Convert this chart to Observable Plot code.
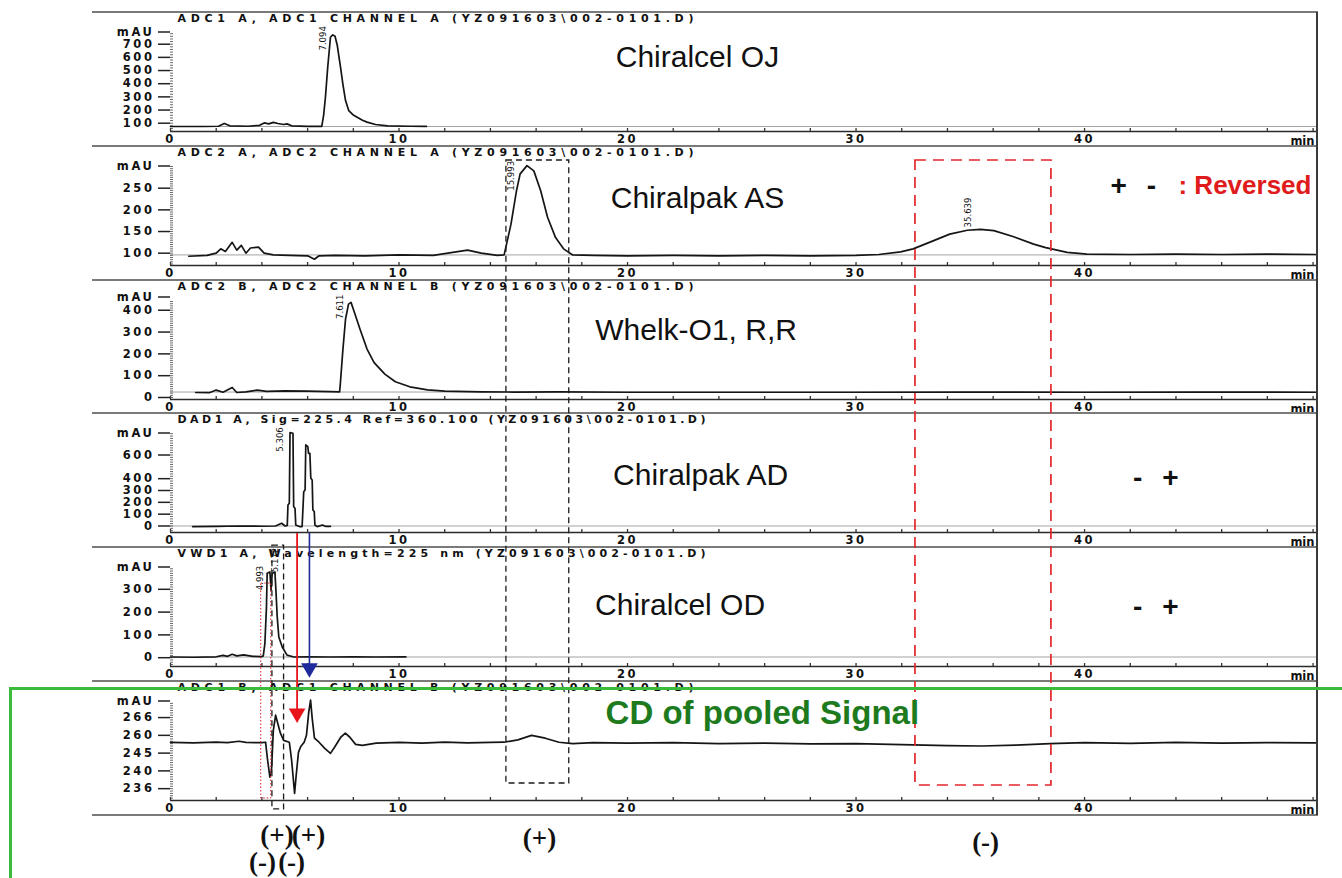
<!DOCTYPE html>
<html>
<head>
<meta charset="utf-8">
<script src="https://cdn.jsdelivr.net/npm/d3@7"></script>
<script src="https://cdn.jsdelivr.net/npm/@observablehq/plot@0.6"></script>
<style>
  html, body { margin: 0; padding: 0; background: #fff; }
  #fig { position: relative; width: 1342px; height: 878px; overflow: hidden; background: #fff; }
  #fig svg { position: absolute; left: 0; overflow: visible; }
  .hline { position: absolute; left: 92px; width: 1226px; height: 0; border-top: 2px solid #7a7a7a; }
  .vline { position: absolute; left: 1316px; top: 12px; width: 0; height: 803px; border-left: 2px solid #3a3a3a; }
  .green { position: absolute; left: 9px; top: 687px; width: 1400px; height: 300px; border: 3px solid #3cba3c; box-sizing: border-box; }
  #fig g[aria-label$="tick label"] text { letter-spacing: 2.6px; }
</style>
</head>
<body>
<div id="fig"></div>
<script>
// ---------- shared axis data ----------
const xDomain = [0, 50.15];
const xTicks = [0, 10, 20, 30, 40];
const xMinorTicks = [0, 2, 4, 6, 8, 10, 12, 14, 16, 18, 20, 22, 24, 26, 28, 30, 32, 34, 36, 38, 40, 42, 44, 46, 48, 50];

const panelTitles = [
  "ADC1 A, ADC1 CHANNEL A (YZ091603\\002-0101.D)",
  "ADC2 A, ADC2 CHANNEL A (YZ091603\\002-0101.D)",
  "ADC2 B, ADC2 CHANNEL B (YZ091603\\002-0101.D)",
  "DAD1 A, Sig=225.4 Ref=360.100 (YZ091603\\002-0101.D)",
  "VWD1 A, Wavelength=225 nm (YZ091603\\002-0101.D)",
  "ADC1 B, ADC1 CHANNEL B (YZ091603\\002-0101.D)"
];
const columnNames = ["Chiralcel OJ", "Chiralpak AS", "Whelk-O1, R,R", "Chiralpak AD", "Chiralcel OD", "CD of pooled Signal"];

// ---------- Panel 1 : Chiralcel OJ ----------
const ojTime   = [0, 1.5, 2.1, 2.35, 2.6, 3.4, 3.9, 4.1, 4.3, 4.5, 4.7, 4.95, 5.1, 5.3, 6.0, 6.62, 6.7, 6.78, 6.88, 7.0, 7.1, 7.2, 7.3, 7.44, 7.55, 7.66, 7.8, 7.98, 8.17, 8.4, 8.6, 8.97, 9.5, 10.5, 11.2];
const ojSignal = [75, 75, 77, 98, 80, 77, 84, 102, 95, 106, 98, 90, 95, 80, 76, 76, 160, 297, 525, 753, 771, 760, 690, 525, 390, 272, 196, 165, 146, 122, 108, 90, 80, 77, 76];
const ojDomain = [37, 792.7];
const ojTicks = [100, 200, 300, 400, 500, 600, 700];
const ojTickLabels = ["100", "200", "300", "400", "500", "600", "700"];
const ojBaseline = 75;
const ojPeaks = [{t: 6.65, v: 652, text: "7.094"}];

// ---------- Panel 2 : Chiralpak AS ----------
const asTime   = [0.8, 1.6, 2.0, 2.2, 2.4, 2.7, 2.9, 3.1, 3.3, 3.5, 3.85, 4.1, 4.5, 5.2, 6.0, 6.3, 6.5, 7.2, 8.5, 10.0, 11.5, 12.5, 13.0, 13.6, 14.3, 14.6, 14.9, 15.14, 15.3, 15.6, 15.9, 16.2, 16.5, 16.85, 17.2, 17.6, 18.5, 20, 22, 24, 26, 28, 30, 31.0, 31.95, 32.5, 33.4, 34.1, 34.87, 35.45, 36.03, 36.9, 37.77, 38.3, 39.24, 40.1, 42, 44, 46, 48, 50.1];
const asSignal = [93, 95, 100, 110, 104, 125, 107, 118, 100, 112, 114, 100, 96, 95, 94, 86, 94, 95, 94, 96, 95, 103, 107, 100, 95, 96, 167, 244, 283, 302, 290, 244, 183, 136, 110, 96, 95, 94, 95, 94, 95, 94, 95, 97, 103, 110, 129, 144, 153, 155, 152, 138, 121, 113, 102, 98, 97, 98, 97, 98, 97];
const asDomain = [71.6, 301.2];
const asTicks = [100, 150, 200, 250];
const asTickLabels = ["100", "150", "200", "250"];
const asBaseline = 96;
const asPeaks = [{t: 14.9, v: 244, text: "15.993"}, {t: 34.9, v: 159.5, text: "35.639"}];

// ---------- Panel 3 : Whelk-O1 ----------
const wkTime   = [1.1, 1.7, 2.0, 2.3, 2.7, 2.9, 3.3, 3.8, 4.2, 5.0, 6.0, 7.0, 7.4, 7.43, 7.54, 7.66, 7.79, 7.9, 8.05, 8.29, 8.6, 8.91, 9.38, 9.84, 10.47, 11.25, 12.0, 13.6, 15, 17, 20, 25, 30, 35, 40, 45, 50.1];
const wkSignal = [23, 22, 34, 24, 46, 23, 26, 34, 28, 30, 29, 27, 26, 60, 214, 360, 428, 436, 390, 314, 222, 160, 107, 72, 49, 35, 29, 26, 25, 26, 24, 24, 24, 25, 24, 25, 24];
const wkDomain = [-9.2, 447];
const wkTicks = [0, 100, 200, 300, 400];
const wkTickLabels = ["0", "100", "200", "300", "400"];
const wkBaseline = 25;
const wkPeaks = [{t: 7.4, v: 360, text: "7.611"}];

// ---------- Panel 4 : Chiralpak AD ----------
const adTime   = [0.97, 2.0, 3.0, 4.0, 4.6, 4.86, 5.02, 5.11, 5.14, 5.2, 5.23, 5.36, 5.39, 5.45, 5.48, 5.64, 5.76, 5.83, 5.89, 5.92, 6.01, 6.04, 6.1, 6.14, 6.2, 6.23, 6.29, 6.32, 6.42, 6.65, 6.8, 7.0];
const adSignal = [-5, -3, 0, -2, 0, 23, 0, 5, 177, 192, 789, 784, 163, 150, 8, -5, -5, 290, 304, 685, 670, 614, 614, 403, 389, 135, 122, 8, -5, 8, -4, -3];
const adDomain = [-55, 786];
const adTicks = [0, 100, 200, 300, 400, 600];
const adTickLabels = ["0", "100", "200", "300", "400", "600"];
const adBaseline = 0;
const adPeaks = [{t: 4.77, v: 628, text: "5.306"}];

// ---------- Panel 5 : Chiralcel OD ----------
const odTime   = [0, 1.0, 2.0, 2.3, 2.5, 2.7, 2.9, 3.2, 3.6, 4.0, 4.06, 4.13, 4.2, 4.23, 4.35, 4.4, 4.45, 4.57, 4.62, 4.67, 4.74, 4.89, 5.1, 5.4, 6.0, 7.0, 8.0, 9.0, 10.3];
const odSignal = [3, 2, 4, 10, 6, 15, 8, 12, 6, 5, 8, 62, 223, 370, 376, 296, 369, 376, 282, 179, 91, 47, 11, 3, 4, 3, 4, 3, 4];
const odDomain = [-38.6, 397.8];
const odTicks = [0, 100, 200, 300];
const odTickLabels = ["0", "100", "200", "300"];
const odBaseline = 3;
const odPeaks = [{t: 3.9, v: 296, text: "4.993"}, {t: 4.55, v: 375, text: "5.172"}];

// ---------- Panel 6 : CD of pooled signal ----------
const cdTime   = [0, 1, 2, 2.5, 3.0, 3.3, 4.0, 4.16, 4.25, 4.35, 4.42, 4.5, 4.6, 4.68, 4.81, 4.95, 5.2, 5.3, 5.43, 5.5, 5.6, 5.7, 5.85, 5.95, 6.05, 6.13, 6.2, 6.3, 6.5, 6.75, 7.0, 7.2, 7.45, 7.65, 7.85, 8.1, 8.4, 9, 10, 11, 12, 13, 14, 14.6, 15.2, 15.8, 16.4, 17.0, 17.6, 18.5, 20, 22, 24, 26, 28, 30, 32, 34, 35.5, 37, 38.5, 40, 42, 44, 46, 48, 50.1];
const cdSignal = [255.5, 255.3, 255.6, 255.4, 256.0, 255.5, 255.4, 255.6, 248, 240.9, 243.7, 260.6, 267, 264, 259.4, 256.4, 255.6, 248, 234, 241.6, 251.3, 253.8, 255.6, 258.5, 268.3, 273.4, 265.8, 257.3, 255.6, 253, 250.9, 253.8, 257.7, 259.4, 257.7, 254.7, 254.3, 255.2, 255.5, 255.2, 255.6, 255.3, 255.5, 255.6, 256.6, 258.5, 257.3, 255.6, 255.0, 255.4, 255.2, 255.4, 255.0, 255.2, 254.9, 255.0, 254.6, 254.2, 254.0, 254.4, 255.0, 255.4, 255.1, 255.5, 255.2, 255.4, 255.3];
const cdDomain = [231, 273];
const cdTicks = [236, 243.5, 251, 258.5, 266];
const cdTickLabels = ["236", "240", "245", "260", "266"];
const cdBaseline = null;
const cdPeaks = [];

// ---------- overlay annotations (x in minutes, y in panel rows 0..6) ----------
const blackBoxes  = [{t1: 14.7, t2: 17.45, r1: 1.106, r2: 5.761}, {t1: 4.46, t2: 4.97, r1: 3.983, r2: 5.955}];
const redBoxes    = [{t1: 32.6, t2: 38.55, r1: 1.106, r2: 5.776}];
const dottedBoxes = [{t1: 3.97, t2: 4.41, r1: 4.267, r2: 5.873}];
const redArrow    = [{t: 5.54, r1: 3.893, head: 5.236}];
const blueArrow   = [{t: 6.08, r1: 3.893, head: 4.898}];
const columnLabelPos = [
  {t: 23.06, r: 0.336}, {t: 23.06, r: 1.39}, {t: 23.0, r: 2.376},
  {t: 23.2, r: 3.46}, {t: 22.3, r: 4.43}
];
const cdLabelPos = {t: 25.9, r: 5.24};
const signMarks = [
  {t: 41.49, r: 1.293, s: "+"}, {t: 42.93, r: 1.293, s: "-"},
  {t: 42.32, r: 3.475, s: "-"}, {t: 43.76, r: 3.475, s: "+"},
  {t: 42.32, r: 4.446, s: "-"}, {t: 43.76, r: 4.446, s: "+"}
];
const reversedLabel = {t: 44.11, r: 1.293, s: ": Reversed"};
const elutionSigns = [
  {t: 4.66, r: 6.15, s: "(+)"}, {t: 6.04, r: 6.15, s: "(+)"},
  {t: 4.03, r: 6.35, s: "(-)"}, {t: 5.3, r: 6.35, s: "(-)"},
  {t: 16.15, r: 6.17, s: "(+)"}, {t: 35.67, r: 6.2, s: "(-)"}
];

// ---------- build ----------
const panels = [
  {title: panelTitles[0], time: ojTime, signal: ojSignal, domain: ojDomain, ticks: ojTicks, tickLabels: ojTickLabels, baseline: ojBaseline, peaks: ojPeaks},
  {title: panelTitles[1], time: asTime, signal: asSignal, domain: asDomain, ticks: asTicks, tickLabels: asTickLabels, baseline: asBaseline, peaks: asPeaks},
  {title: panelTitles[2], time: wkTime, signal: wkSignal, domain: wkDomain, ticks: wkTicks, tickLabels: wkTickLabels, baseline: wkBaseline, peaks: wkPeaks},
  {title: panelTitles[3], time: adTime, signal: adSignal, domain: adDomain, ticks: adTicks, tickLabels: adTickLabels, baseline: adBaseline, peaks: adPeaks},
  {title: panelTitles[4], time: odTime, signal: odSignal, domain: odDomain, ticks: odTicks, tickLabels: odTickLabels, baseline: odBaseline, peaks: odPeaks},
  {title: panelTitles[5], time: cdTime, signal: cdSignal, domain: cdDomain, ticks: cdTicks, tickLabels: cdTickLabels, baseline: cdBaseline, peaks: cdPeaks}
];
// styling: rendered title widths and small vertical nudges of the "mAU" unit label
const titleWidths = [516, 516, 516, 528, 528, 516];
const unitNudge = [0, 0, -3, 0, 0, 0];

const fig = document.getElementById("fig");
const TOP = 12, ROW = 133.83, PH = 134;
const MT = 19.5, MB = 15, ML = 170, MR = 26;
const tickTextStyle = {fontWeight: "bold", fontSize: 11.5, fontFamily: "DejaVu Sans", fill: "#111"};

function panelPlot(p, idx) {
  const [lo, hi] = p.domain;
  const yUnit = (hi - lo) / (PH - MT - MB);
  const xUnit = (xDomain[1] - xDomain[0]) / (1342 - ML - MR);
  const pts = p.time.map((t, k) => ({t, v: p.signal[k]}));
  const labelMap = new Map(p.ticks.map((d, k) => [d, p.tickLabels[k]]));
  const minorY = d3.ticks(lo, hi, 38).filter(d => d > lo && d < hi);
  const marks = [];
  if (p.baseline !== null) marks.push(Plot.ruleY([p.baseline], {stroke: "#8c8c8c", strokeWidth: 0.8}));
  marks.push(
    Plot.ruleY([lo], {stroke: "#2a2a2a", strokeWidth: 1.6}),
    Plot.ruleX(xMinorTicks, {x: d => d, y1: lo, y2: lo + 3 * yUnit, stroke: "#333", strokeWidth: 1.3}),
    Plot.ruleY(minorY, {y: d => d, x1: 0, x2: 3 * xUnit, stroke: "#444", strokeWidth: 0.8}),
    Plot.axisY({ticks: p.ticks, tickFormat: d => labelMap.get(d), tickSize: 12, tickPadding: 4, line: true,
      stroke: "#222", strokeWidth: 1.5, ...tickTextStyle, label: null}),
    Plot.axisY({ticks: [hi], tickFormat: () => "mAU", tickSize: 12, tickPadding: 4, dy: unitNudge[idx],
      stroke: "#222", strokeWidth: 1.5, ...tickTextStyle, label: null}),
    Plot.axisX({ticks: xTicks, tickFormat: d => String(d), tickSize: 0, tickPadding: 3,
      ...tickTextStyle, label: null}),
    Plot.line(pts, {x: "t", y: "v", stroke: "#151515", strokeWidth: 1.7}),
    Plot.text(p.peaks, {x: "t", y: "v", text: "text", rotate: -90, textAnchor: "start",
      fontFamily: "DejaVu Sans Condensed", fontSize: 9.5, fill: "#111"}),
    Plot.text([p.title], {frameAnchor: "top-left", dx: 7, dy: -14, lineAnchor: "middle", textAnchor: "start",
      fontWeight: "bold", fontSize: 11, fontFamily: "DejaVu Sans", fill: "#111"}),
    Plot.text(["min"], {frameAnchor: "bottom-right", dx: -2, dy: 9.5, lineAnchor: "middle", textAnchor: "end",
      ...tickTextStyle})
  );
  const svg = Plot.plot({
    width: 1342, height: PH,
    marginLeft: ML, marginRight: MR, marginTop: MT, marginBottom: MB,
    x: {domain: xDomain, label: null},
    y: {domain: p.domain, label: null},
    style: {background: "transparent", overflow: "visible"},
    marks
  });
  d3.select(svg).selectAll("text")
    .filter(function() { return this.textContent === p.title; })
    .attr("textLength", titleWidths[idx]).attr("lengthAdjust", "spacing");
  return svg;
}

panels.forEach((p, i) => {
  const svg = panelPlot(p, i);
  svg.style.top = (TOP + i * ROW) + "px";
  fig.appendChild(svg);
});

// panel separators and right border
for (let i = 0; i <= 6; i++) {
  const d = document.createElement("div");
  d.className = "hline";
  d.style.top = (TOP + i * ROW - 1) + "px";
  fig.appendChild(d);
}
const vb = document.createElement("div"); vb.className = "vline"; fig.appendChild(vb);

// overlay
const columnTexts = columnLabelPos.map((d, i) => ({...d, name: columnNames[i]}));
const overlay = Plot.plot({
  width: 1342, height: 878,
  marginLeft: ML, marginRight: MR, marginTop: 0, marginBottom: 0,
  x: {domain: xDomain, axis: null},
  y: {domain: [0, 6], range: [TOP, TOP + 6 * ROW], axis: null},
  style: {background: "transparent", overflow: "visible"},
  marks: [
    Plot.rect(blackBoxes, {x1: "t1", x2: "t2", y1: "r1", y2: "r2", fill: "none", stroke: "#1a1a1a", strokeWidth: 1.3, strokeDasharray: "6,4"}),
    Plot.rect(redBoxes, {x1: "t1", x2: "t2", y1: "r1", y2: "r2", fill: "none", stroke: "#e3262b", strokeWidth: 1.7, strokeDasharray: "11,7"}),
    Plot.rect(dottedBoxes, {x1: "t1", x2: "t2", y1: "r1", y2: "r2", fill: "none", stroke: "#d8232a", strokeWidth: 1, strokeDasharray: "1.5,2"}),
    Plot.ruleX(redArrow, {x: "t", y1: "r1", y2: "head", stroke: "#e8141a", strokeWidth: 1.8}),
    Plot.dot(redArrow, {x: "t", y: "head", symbol: "triangle", rotate: 180, r: 6.2, fill: "#e8141a", stroke: "none"}),
    Plot.ruleX(blueArrow, {x: "t", y1: "r1", y2: "head", stroke: "#1f2b9c", strokeWidth: 1.6}),
    Plot.dot(blueArrow, {x: "t", y: "head", symbol: "triangle", rotate: 180, r: 6.2, fill: "#1f2b9c", stroke: "none"}),
    Plot.text(columnTexts, {x: "t", y: "r", text: "name", fontSize: 30, fontFamily: "Liberation Sans", fill: "#111"}),
    Plot.text([cdLabelPos], {x: "t", y: "r", text: () => columnNames[5], fontSize: 33, fontWeight: "bold", fontFamily: "Liberation Sans", fill: "#1d7a1d"}),
    Plot.text(signMarks, {x: "t", y: "r", text: "s", fontSize: 28, fontWeight: "bold", fontFamily: "Liberation Sans", fill: "#111"}),
    Plot.text([reversedLabel], {x: "t", y: "r", text: "s", textAnchor: "start", fontSize: 26, fontWeight: "bold", fontFamily: "Liberation Sans", fill: "#e01b1b"}),
    Plot.text(elutionSigns, {x: "t", y: "r", text: "s", fontSize: 27, fontWeight: "bold", fontFamily: "Liberation Serif", fill: "#111"})
  ]
});
overlay.style.top = "0px";
fig.appendChild(overlay);

const g = document.createElement("div"); g.className = "green"; fig.appendChild(g);
</script>
</body>
</html>
